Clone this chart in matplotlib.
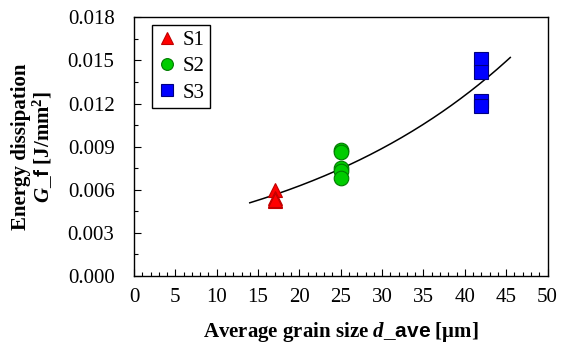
import numpy as np
import matplotlib
matplotlib.use("Agg")
import matplotlib.pyplot as plt
from matplotlib.ticker import MultipleLocator, FormatStrFormatter

plt.rcParams['font.family'] = ['Liberation Serif', 'DejaVu Serif']
plt.rcParams['mathtext.fontset'] = 'custom'
plt.rcParams['mathtext.rm'] = 'Liberation Serif'
plt.rcParams['mathtext.bf'] = 'Liberation Serif:bold'
plt.rcParams['mathtext.it'] = 'Liberation Serif:italic'
plt.rcParams['mathtext.bfit'] = 'Liberation Serif:bold:italic'
plt.rcParams['mathtext.sf'] = 'Liberation Sans:bold'

# data
s1_x = [17, 17, 17, 17]
s1_y = [0.0060, 0.0054, 0.0052, 0.0053]
s2_x = [25, 25, 25, 25, 25]
s2_y = [0.0088, 0.0086, 0.0075, 0.0073, 0.0068]
s3_x = [42, 42, 42, 42]
s3_y = [0.0151, 0.0142, 0.0122, 0.0118]
fit_range = [14, 45.5]
x_ticks = [0, 5, 10, 15, 20, 25, 30, 35, 40, 45, 50]
y_ticks = [0.000, 0.003, 0.006, 0.009, 0.012, 0.015, 0.018]

fig = plt.figure(figsize=(5.62, 3.56), dpi=100)
ax = fig.add_axes([134/562, 1-276/356, (547.5-134)/562, (276-17.3)/356])

# exponential trend line fitted to all points
all_x = np.array(s1_x + s2_x + s3_x, dtype=float)
all_y = np.array(s1_y + s2_y + s3_y, dtype=float)
b, lna = np.polyfit(all_x, np.log(all_y), 1)
xx = np.linspace(fit_range[0], fit_range[1], 200)
ax.plot(xx, np.exp(lna) * np.exp(b * xx), color='black', lw=1.1, zorder=2)

ax.plot(s1_x, s1_y, ls='none', marker='^', ms=10, mfc='#FF0000', mec='#C00000', mew=0.8, label='S1', zorder=3)
ax.plot(s2_x, s2_y, ls='none', marker='o', ms=10.5, mfc='#00CC00', mec='#007A00', mew=0.8, label='S2', zorder=3)
ax.plot(s3_x, s3_y, ls='none', marker='s', ms=9.5, mfc='#0000FF', mec='#000080', mew=0.8, label='S3', zorder=3)

ax.set_xlim(0, 50)
ax.set_ylim(0, 0.018)
ax.set_xticks(x_ticks)
ax.set_yticks(y_ticks)
ax.yaxis.set_major_formatter(FormatStrFormatter('%.3f'))
ax.xaxis.set_minor_locator(MultipleLocator(1))
ax.yaxis.set_minor_locator(MultipleLocator(0.0015))
ax.tick_params(which='both', direction='in', labelsize=15, width=0.8)
ax.tick_params(which='major', length=5)
ax.tick_params(axis='x', which='major', pad=9)
ax.tick_params(axis='y', which='major', pad=14)
ax.tick_params(which='minor', length=3)
for sp in ax.spines.values():
    sp.set_linewidth(1.0)

ax.set_xlabel(r'Average grain size $\mathbfit{d}\mathsf{\_ave}$ [μm]', fontsize=15, fontweight='bold', labelpad=9)
ax.set_ylabel('Energy dissipation\n' + r'$\mathbfit{G}\mathsf{\_f}$ [J/mm$^\mathbf{2}$]', fontsize=15,
              fontweight='bold', labelpad=9, linespacing=1.0)

leg = ax.legend(loc='upper left', bbox_to_anchor=(0.044, 0.969), fontsize=15, frameon=True,
                fancybox=False, edgecolor='black', framealpha=1, handlelength=0.9,
                handletextpad=0.3, borderpad=0.25, labelspacing=0.32, borderaxespad=0)
leg.get_frame().set_linewidth(1.0)
for h in leg.legend_handles:
    h.set_markersize(8.5)

fig.savefig('out.png', dpi=100)
